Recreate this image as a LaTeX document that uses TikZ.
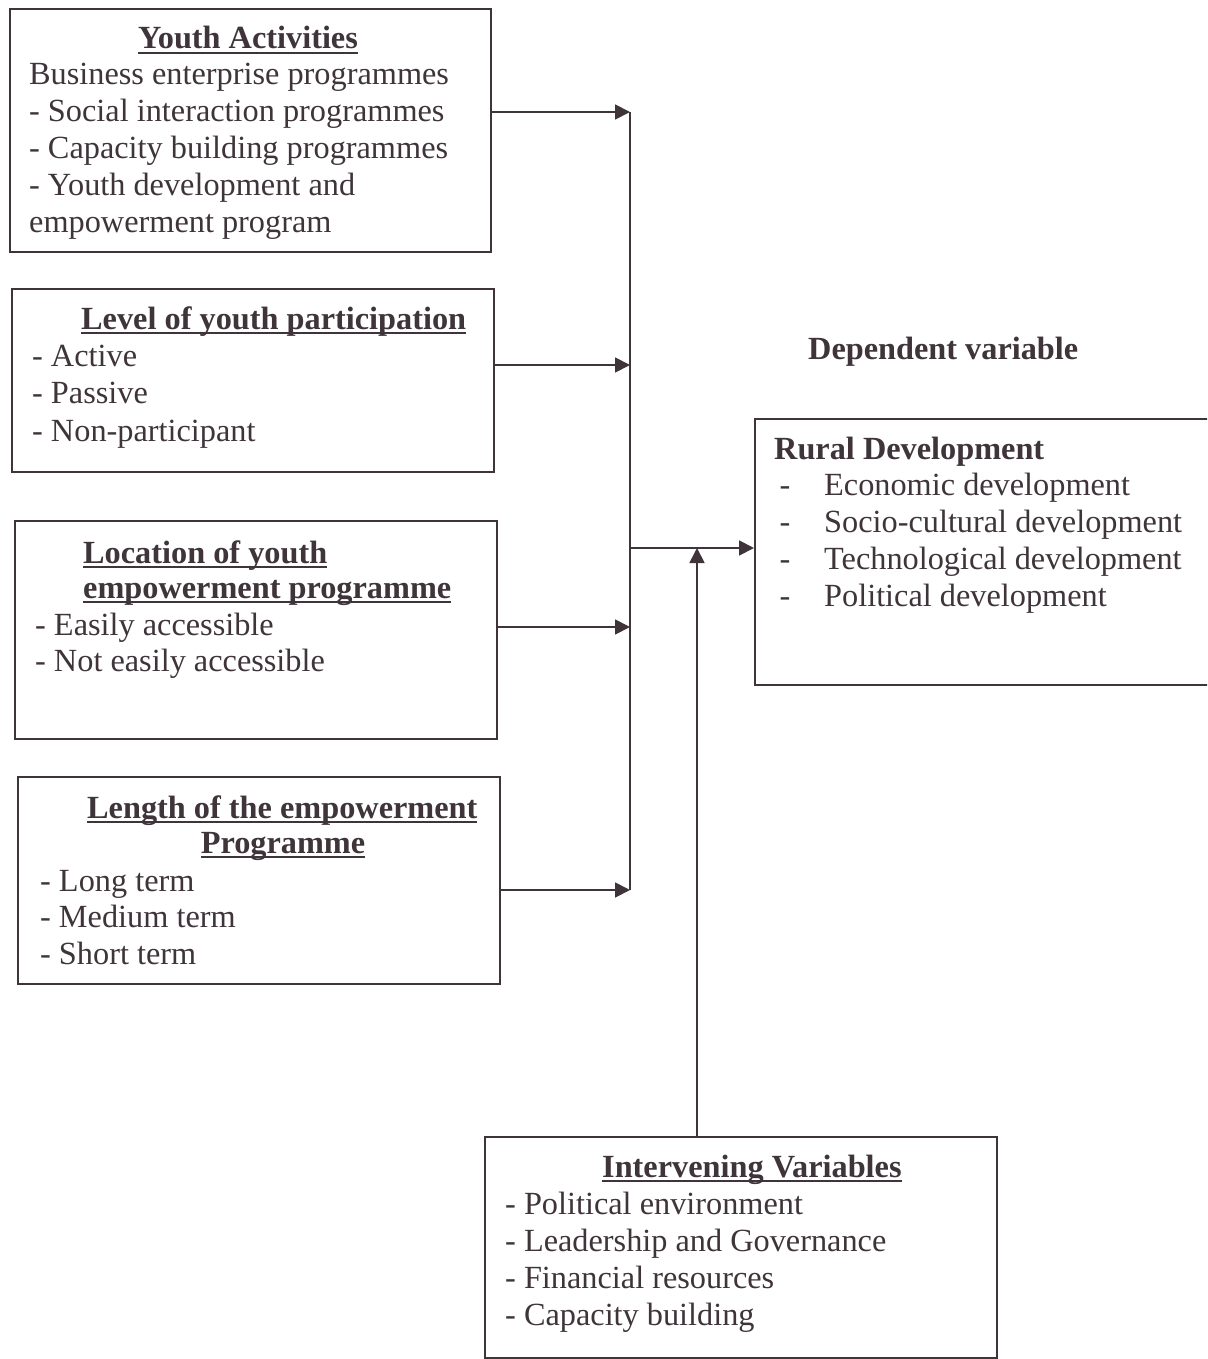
\documentclass[tikz,border=0pt]{standalone}
\usepackage{fontspec}
\setmainfont{Liberation Serif}
\usepackage{tikz}
\usetikzlibrary{positioning,calc,arrows.meta}
\definecolor{ink}{RGB}{62,52,58}
\newsavebox{\headbox}
\newcommand{\heading}[1]{\sbox{\headbox}{\textbf{#1}}\rlap{\rule[-5pt]{\wd\headbox}{1.8pt}}\usebox{\headbox}}

\begin{document}
\begin{tikzpicture}[x=1pt, y=-1pt, color=ink,
    font=\fontsize{32.3}{37}\selectfont,
    box/.style={draw, line width=1.8pt, inner sep=0pt, anchor=north west},
    item/.style={anchor=base west, inner sep=0pt},
    arr/.style={line width=1.8pt, -{Triangle[length=15pt,width=15pt]}}]
    \clip (0,0) rectangle (1207,1359);
    \fill[white] (0,0) rectangle (1207,1359);

    % independent variables
    \node[box, minimum width=481pt, minimum height=243pt] (act) at (9,8) {};
    \node[item, anchor=base] (act-h) at (248,49) {\heading{Youth Activities}};
    \foreach \t [count=\i] in {Business enterprise programmes, - Social interaction programmes, - Capacity building programmes, - Youth development and, empowerment program}
        \node[item] (act-\i) at (29,{85+36.8*(\i-1)}) {\t};

    \node[box, minimum width=482pt, minimum height=183pt] (lev) at (11,288) {};
    \node[item] (lev-h) at (81,329) {\heading{Level of youth participation}};
    \foreach \t [count=\i] in {- Active, - Passive, - Non-participant}
        \node[item] (lev-\i) at (32,{366+37.5*(\i-1)}) {\t};

    \node[box, minimum width=482pt, minimum height=218pt] (loc) at (14,520) {};
    \node[item] (loc-h1) at (83,563) {\heading{Location of youth}};
    \node[item] (loc-h2) at (83,598) {\heading{empowerment programme}};
    \foreach \t [count=\i] in {- Easily accessible, - Not easily accessible}
        \node[item] (loc-\i) at (35,{635+36*(\i-1)}) {\t};

    \node[box, minimum width=482pt, minimum height=207pt] (len) at (17,776) {};
    \node[item] (len-h1) at (87,818) {\heading{Length of the empowerment}};
    \node[item, anchor=base] (len-h2) at (283,853) {\heading{Programme}};
    \foreach \t [count=\i] in {- Long term, - Medium term, - Short term}
        \node[item] (len-\i) at (40,{891+36.5*(\i-1)}) {\t};

    % dependent variable
    \node[item] (dep) at (808,359) {\textbf{Dependent variable}};
    \node[box, minimum width=460pt, minimum height=266pt] (rural) at (754,418) {};
    \node[item] (rur-h) at (774,459) {\textbf{Rural Development}};
    \foreach \t [count=\i] in {Economic development, Socio-cultural development, Technological development, Political development}
        \node[item] (rur-\i) at (774,{495+37*(\i-1)}) {\makebox[50pt][l]{\,-}\t};

    % intervening variables
    \node[box, minimum width=512pt, minimum height=221pt] (interv) at (484,1136) {};
    \node[item] (int-h) at (602,1177) {\heading{Intervening Variables}};
    \foreach \t [count=\i] in {- Political environment, - Leadership and Governance, - Financial resources, - Capacity building}
        \node[item] (int-\i) at (505,{1214+37*(\i-1)}) {\t};

    % connectors
    \coordinate (b1) at (630,112);
    \coordinate (b2) at (630,365);
    \coordinate (b3) at (630,627);
    \coordinate (b4) at (630,890);
    \draw[line width=1.8pt] (b1) -- (b4);
    \foreach \n/\b in {act/b1, lev/b2, loc/b3, len/b4}
        \draw[arr] (\n.east |- \b) -- (\b);
    \coordinate (join) at (630,548);
    \draw[arr] (join) -- (rural.west |- join);
    \coordinate (meet) at (697,548);
    \draw[arr] (interv.north -| meet) -- (meet);
\end{tikzpicture}
\end{document}
